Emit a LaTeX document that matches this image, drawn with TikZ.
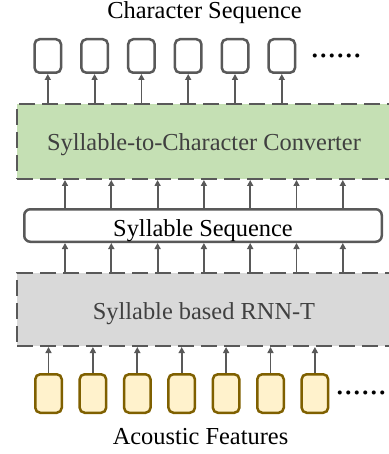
\documentclass[tikz,border=0pt]{standalone}
\usepackage{fontspec}
\setmainfont{Liberation Serif}
\usetikzlibrary{arrows.meta}
\definecolor{linegray}{HTML}{595959}
\definecolor{greenfill}{HTML}{C5E0B4}
\definecolor{grayfill}{HTML}{D9D9D9}
\definecolor{featfill}{HTML}{FFF2CC}
\definecolor{featline}{HTML}{7F6000}
\definecolor{txtgray}{HTML}{404040}
\tikzset{
  charbox/.style={draw=linegray, line width=2.5pt, fill=white, rounded corners=5pt,
    minimum width=26.5pt, minimum height=33.5pt, inner sep=0pt},
  featbox/.style={draw=featline, line width=2.5pt, fill=featfill, rounded corners=5pt,
    minimum width=26.5pt, minimum height=38.5pt, inner sep=0pt},
  dashbox/.style={draw=linegray, line width=2pt, dash pattern=on 16pt off 7pt,
    inner sep=0pt, text=txtgray, font=\fontsize{24.4}{28}\selectfont, text depth=0pt},
  seqbox/.style={draw=linegray, line width=2.5pt, fill=white, rounded corners=6pt,
    inner sep=0pt, font=\fontsize{24.4}{28}\selectfont, text depth=0pt},
  lbl/.style={font=\fontsize{24.4}{28}\selectfont, inner sep=0pt, anchor=base},
  dots/.style={font=\fontsize{34}{36}\selectfont, inner sep=0pt, anchor=base west},
  arr/.style={draw=linegray, line width=1.8pt, -{Triangle[width=6pt,length=6pt]}},
}
\begin{document}
\begin{tikzpicture}[x=1pt,y=-1pt]
\useasboundingbox (0,0) rectangle (388,454);

% labels
\node[lbl] (top) at (204.5,18.5) {Character Sequence};
\node[lbl] (bot) at (200.5,444) {Acoustic Features};

% boxes
\node[dashbox, fill=greenfill, minimum width=374pt, minimum height=75pt, text height=18.4pt]
  (g) at (204,141.5) {Syllable-to-Character Converter};
\node[seqbox, minimum width=357.5pt, minimum height=32.5pt, text height=21pt]
  (s) at (203,225.5) {Syllable Sequence};
\node[dashbox, fill=grayfill, minimum width=374pt, minimum height=73pt, text height=19pt]
  (r) at (204,309.5) {Syllable based RNN-T};

% character boxes
\foreach \i in {0,...,5} {
  \node[charbox] (c\i) at ({47.8+46.8*\i},56) {};
  \draw[arr] (c\i |- g.north) -- (c\i.south);
}
\node[dots] (cdots) at (310.5,57.7) {......};

% middle arrows
\foreach \i in {0,...,6} {
  \coordinate (m\i) at ({65+46.3*\i},0);
  \draw[arr] (m\i |- s.north) -- (m\i |- g.south);
  \draw[arr] (m\i |- r.north) -- (m\i |- s.south);
}

% acoustic feature boxes
\foreach \i in {0,...,6} {
  \node[featbox] (f\i) at ({48.5+44.4*\i},393.5) {};
  \draw[arr] (f\i.north) -- (f\i |- r.south);
}
\node[dots] (fdots) at (335.5,394.7) {......};
\end{tikzpicture}
\end{document}
